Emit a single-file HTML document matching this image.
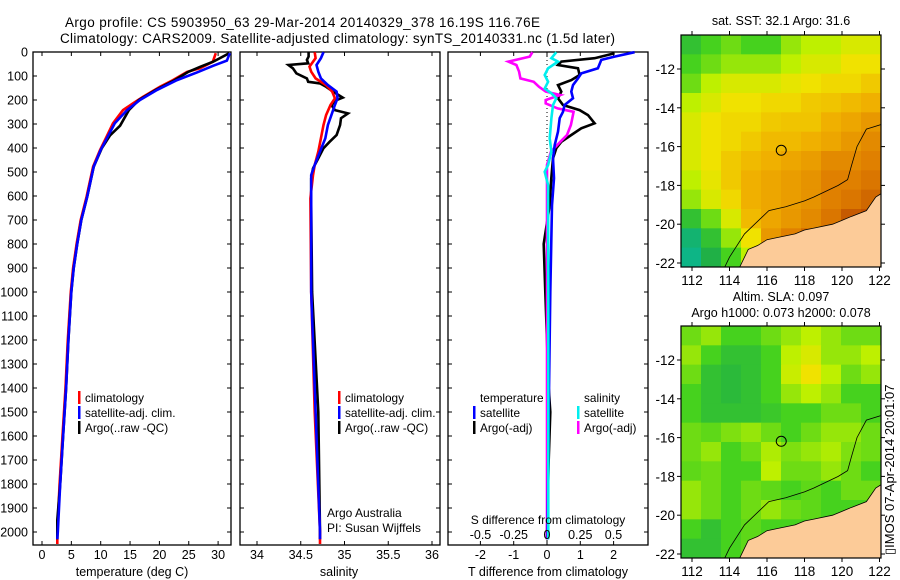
<!DOCTYPE html>
<html><head><meta charset="utf-8"><style>
body{margin:0;background:#fff}
svg{display:block;font-family:"Liberation Sans",sans-serif}
text{fill:#000}
</style></head><body>
<svg id="fig" width="900" height="580" viewBox="0 0 900 580" xmlns="http://www.w3.org/2000/svg">
<text x="65" y="27" font-size="13.5" textLength="475">Argo profile: CS 5903950_63 29-Mar-2014 20140329_378 16.19S 116.76E</text>
<text x="60" y="43" font-size="13.5" textLength="555">Climatology: CARS2009. Satellite-adjusted climatology: synTS_20140331.nc (1.5d later)</text>
<g id="g1"></g>
<g id="g2"></g>
<g id="g3"></g>
<g id="m1"></g>
<g id="m2"></g>
<text transform="translate(894,555) rotate(-90)" font-size="13">▯IMOS 07-Apr-2014 20:01:07</text>
</svg>
<script>
// ---- temperature profile data ----
const climTDepth=[5,41,68,83,117,145,187,214,242,297,353,408,478,603,700,800,900,1000,1200,1400,1600,1800,2000,2050];
const tempClim=[29.6,29.1,26.9,24.7,22.3,20.1,17.2,15.5,13.8,12.1,11.0,9.9,8.7,7.6,6.6,5.9,5.3,4.9,4.4,4.0,3.5,3.0,2.6,2.6];
const satTDepth=[5,36,57,85,117,158,200,242,297,353,408,478,603,700,800,900,1000,1200,1400,1600,1800,2000,2030];
const tempSat=[32.0,31.5,29.2,26.4,23.0,19.6,16.7,14.5,12.4,11.2,10.0,8.8,7.7,6.7,6.0,5.4,5.0,4.5,4.1,3.6,3.1,2.7,2.6];
const argoTDepth=[5,40,62,83,117,158,200,242,307,347,400,478,603,700,800,900,1000,1200,1400,1600,1800,1950,2030];
const tempArgo=[31.9,29.2,26.9,24.9,22.6,19.4,16.5,14.8,13.3,11.6,10.2,8.8,7.7,6.7,6.0,5.4,5.0,4.5,4.1,3.6,3.1,2.6,2.6];
// ---- salinity profile data ----
const climSDepth=[1,26,61,82,110,138,165,193,221,263,304,360,415,471,513,610,1000,1500,2000,2050];
const salClim=[34.66,34.67,34.60,34.62,34.67,34.79,34.86,34.89,34.84,34.79,34.76,34.73,34.70,34.66,34.64,34.61,34.62,34.66,34.72,34.72];
const satSDepth=[1,26,54,82,110,138,165,193,221,263,304,360,415,471,513,610,1000,1500,2000,2030];
const salSat=[34.76,34.73,34.68,34.70,34.73,34.81,34.91,34.92,34.89,34.85,34.81,34.78,34.72,34.66,34.62,34.62,34.62,34.67,34.72,34.72];
const argoSDepth=[1,19,33,47,54,68,89,110,124,131,145,165,190,200,221,242,256,276,304,346,374,401,443,485,526,637,1000,1500,2000,2030];
const salArgo=[34.59,34.59,34.57,34.585,34.36,34.41,34.45,34.57,34.585,34.72,34.79,34.87,34.98,34.91,34.85,34.89,35.04,34.96,34.95,34.91,34.83,34.76,34.70,34.64,34.62,34.62,34.63,34.70,34.72,34.72];
// ---- difference data ----
const dTSatDepth=[1,19,33,68,89,110,138,165,193,221,249,276,332,388,443,526,638,1000,1500,2000,2030];
const dTSat=[2.63,2.03,1.63,1.53,1.03,0.93,0.78,0.73,0.78,0.53,0.48,0.38,0.33,0.23,0.18,0.21,0.15,0.1,0.05,0.02,0.02];
const dTArgoDepth=[5,26,40,54,68,96,117,138,165,193,221,242,263,297,318,346,374,401,443,526,638,800,1000,1200,1400,1500,1700,2000,2030];
const dTArgo=[2.03,1.43,0.43,0.33,0.93,0.98,0.73,0.33,0.43,0.33,0.48,0.98,1.23,1.43,1.03,0.73,0.43,0.28,0.18,0.13,0.08,-0.1,-0.05,0.0,0.05,0.1,0.05,0.0,0.0];
const dSSatDepth=[1,26,40,68,96,124,152,172,193,221,276,360,415,471,499,554,638,1000,2000,2030];
const dSSat=[0.07,0.033,0.083,0.008,-0.017,0.008,-0.017,0.033,0.07,0.045,0.033,0.02,0.033,0.008,-0.017,0.008,0.008,0.01,0.01,0.01];
const dSArgoDepth=[1,19,40,54,82,110,124,145,165,179,200,214,235,249,276,304,346,374,415,471,526,638,1000,2000,2030];
const dSArgo=[-0.11,-0.13,-0.29,-0.23,-0.21,-0.20,-0.10,-0.06,-0.01,0.10,-0.01,-0.01,0.08,0.20,0.19,0.18,0.15,0.10,0.03,0.0,0.0,0.0,0.0,0.0,0.0];
// ---- tick labels ----
const depthTicks=[0,100,200,300,400,500,600,700,800,900,1000,1100,1200,1300,1400,1500,1600,1700,1800,1900,2000];
const tempTicks=[0,5,10,15,20,25,30];
const salTicks=[34,34.5,35,35.5,36];
const dTTicks=[-2,-1,0,1,2];
const dSTicks=[-0.5,-0.25,0,0.25,0.5];
const lonTicks=[112,114,116,118,120,122];
const latTicks=[-12,-14,-16,-18,-20,-22];
// ---- map grids (10 cols x 12 rows, north to south) ----
const sstGrid=[
[0.30,0.35,0.40,0.35,0.35,0.45,0.50,0.50,0.55,0.55],
[0.35,0.40,0.45,0.45,0.45,0.50,0.55,0.55,0.60,0.60],
[0.40,0.50,0.55,0.55,0.55,0.58,0.60,0.62,0.62,0.65],
[0.50,0.55,0.60,0.60,0.62,0.62,0.65,0.66,0.68,0.70],
[0.55,0.60,0.62,0.62,0.65,0.66,0.66,0.70,0.72,0.75],
[0.55,0.60,0.62,0.65,0.68,0.68,0.70,0.72,0.75,0.78],
[0.55,0.60,0.65,0.68,0.70,0.72,0.74,0.78,0.78,0.80],
[0.50,0.58,0.65,0.70,0.72,0.74,0.76,0.80,0.80,0.82],
[0.45,0.55,0.62,0.70,0.72,0.74,0.76,0.80,0.82,0.85],
[0.30,0.40,0.55,0.68,0.72,0.75,0.78,0.82,0.88,0.90],
[0.15,0.30,0.45,0.60,0.75,0.80,0.85,0.88,0.90,0.90],
[0.10,0.25,0.35,0.50,0.75,0.80,0.85,0.88,0.90,0.90]];
const slaGrid=[
[0.40,0.45,0.35,0.35,0.40,0.45,0.50,0.45,0.40,0.40],
[0.45,0.35,0.30,0.30,0.35,0.50,0.55,0.45,0.45,0.50],
[0.40,0.30,0.28,0.30,0.35,0.52,0.60,0.50,0.40,0.45],
[0.35,0.30,0.28,0.30,0.35,0.45,0.50,0.45,0.35,0.35],
[0.35,0.30,0.30,0.30,0.32,0.35,0.35,0.40,0.40,0.35],
[0.40,0.38,0.42,0.45,0.40,0.35,0.40,0.45,0.45,0.40],
[0.40,0.45,0.35,0.40,0.48,0.42,0.45,0.48,0.42,0.40],
[0.38,0.40,0.35,0.35,0.50,0.40,0.40,0.45,0.40,0.35],
[0.45,0.40,0.35,0.40,0.38,0.35,0.38,0.35,0.40,0.40],
[0.45,0.40,0.35,0.40,0.45,0.40,0.38,0.35,0.35,0.35],
[0.35,0.30,0.35,0.38,0.35,0.35,0.35,0.38,0.40,0.40],
[0.30,0.30,0.35,0.38,0.35,0.35,0.35,0.38,0.40,0.40]];
const landLon=[114.5,115,115.5,116,116.5,117.5,118,118.5,119.5,120,120.5,121.3,121.8,122.3,122.3,114.5];
const landLat=[-22.3,-21.3,-21.1,-20.8,-20.7,-20.5,-20.3,-20.2,-20.0,-19.8,-19.6,-19.3,-18.6,-18.3,-22.3,-22.3];
const isoLon=[113.7,114,114.8,116.1,117,118,118.5,119.8,120.3,120.5,120.8,121.3,122.3];
const isoLat=[-22.3,-21.7,-20.5,-19.3,-19.1,-18.8,-18.6,-18.0,-17.7,-17.0,-16.0,-15.1,-14.8];
const profLon=[116.76], profLat=[-16.19];

const NS='http://www.w3.org/2000/svg';
function mk(tag,attrs,parent){const e=document.createElementNS(NS,tag);for(const k in attrs)e.setAttribute(k,attrs[k]);parent.appendChild(e);return e;}
function txt(s,x,y,anchor,parent,size){const t=mk('text',{x:x,y:y,'font-size':size||12.5,'text-anchor':anchor||'start'},parent);t.textContent=s;return t;}
const TOP=52,BOT=545;
const yD=d=>TOP+d*0.24;

function panel(g,x0,x1,xs,ticks,labelFmt,name){
  const r=mk('rect',{x:x0,y:TOP,width:x1-x0,height:BOT-TOP,fill:'none',stroke:'#000','stroke-width':1.3},g);
  
  
  depthTicks.forEach(d=>{mk('line',{x1:x0,x2:x0+4,y1:yD(d),y2:yD(d),stroke:'#000'},g);mk('line',{x1:x1,x2:x1-4,y1:yD(d),y2:yD(d),stroke:'#000'},g);});
  ticks.forEach(v=>{const x=xs(v);mk('line',{x1:x,x2:x,y1:TOP,y2:TOP+4,stroke:'#000'},g);mk('line',{x1:x,x2:x,y1:BOT,y2:BOT-4,stroke:'#000'},g);
    if(labelFmt){const t=txt(labelFmt(v),x,559,'middle',g);}});
}
function series(g,xs,depths,vals,color,name,w){
  const pts=depths.map((d,i)=>xs(vals[i]).toFixed(1)+','+yD(d).toFixed(1)).join(' ');
  const p=mk('polyline',{points:pts,fill:'none',stroke:color,'stroke-width':w||2.6,'stroke-linejoin':'miter'},g);
  
  
}
function legend(g,x,y,color,label){
  mk('rect',{x:x,y:y-11,width:2.5,height:13,fill:color},g);
  const t=txt(label,x+7,y,'start',g,11.8);
  
  
}
// Panel 1
const g1=document.getElementById('g1');
const xT=v=>42+5.87*v;
panel(g1,33,231,xT,tempTicks,v=>String(v),'temperature');
depthTicks.forEach(d=>{const t=txt(String(d),28,yD(d)+4.5,'end',g1);});
series(g1,xT,climTDepth,tempClim,'#f00','temp-climatology-line');
series(g1,xT,argoTDepth,tempArgo,'#000','temp-argo-line');
series(g1,xT,satTDepth,tempSat,'#00f','temp-satellite-line');
legend(g1,78,402,'#f00','climatology');legend(g1,78,417,'#00f','satellite-adj. clim.');legend(g1,78,432,'#000','Argo(..raw -QC)');
{const t=txt('temperature (deg C)',132,576,'middle',g1);}
// Panel 2
const g2=document.getElementById('g2');
const xS=v=>257+87.5*(v-34);
panel(g2,240,440,xS,salTicks,v=>String(v),'salinity');
series(g2,xS,argoSDepth,salArgo,'#000','sal-argo-line');
series(g2,xS,climSDepth,salClim,'#f00','sal-climatology-line');
series(g2,xS,satSDepth,salSat,'#00f','sal-satellite-line');
legend(g2,338,402,'#f00','climatology');legend(g2,338,417,'#00f','satellite-adj. clim.');legend(g2,338,432,'#000','Argo(..raw -QC)');
txt('Argo Australia',327,517,'start',g2,12);txt('PI: Susan Wijffels',327,532,'start',g2,12);
{const t=txt('salinity',339,576,'middle',g2);}
// Panel 3
const g3=document.getElementById('g3');
const xDT=v=>547+33.3*v, xDS=v=>547+133*v;
panel(g3,448,648,xDT,dTTicks,v=>String(v),'t-difference');
mk('line',{x1:547,x2:547,y1:TOP,y2:BOT,stroke:'#000','stroke-dasharray':'1,3'},g3);
series(g3,xDT,dTArgoDepth,dTArgo,'#000','dT-argo-line');
series(g3,xDS,dSArgoDepth,dSArgo,'#f0f','dS-argo-line');
series(g3,xDT,dTSatDepth,dTSat,'#00f','dT-satellite-line');
series(g3,xDS,dSSatDepth,dSSat,'#0ee','dS-satellite-line');
txt('temperature',480,402,'start',g3,11.8);txt('salinity',584,402,'start',g3,11.8);
legend(g3,473,417,'#00f','satellite');legend(g3,473,432,'#000','Argo(-adj)');
legend(g3,577,417,'#0ee','satellite');legend(g3,577,432,'#f0f','Argo(-adj)');
txt('S difference from climatology',548,524,'middle',g3,12);
dSTicks.forEach(v=>{const t=txt(String(v),xDS(v),539,'middle',g3);});
{const t=txt('T difference from climatology',548,576,'middle',g3);}

// colormap
const stops=[[0,[0,184,176]],[0.25,[32,176,70]],[0.35,[70,210,30]],[0.5,[190,240,0]],[0.6,[240,226,0]],[0.7,[240,176,0]],[0.8,[224,128,0]],[0.9,[192,80,0]],[1,[160,48,0]]];
function cmap(v){for(let i=1;i<stops.length;i++){if(v<=stops[i][0]){const a=stops[i-1],b=stops[i],t=(v-a[0])/(b[0]-a[0]);return 'rgb('+a[1].map((c,k)=>Math.round(c+t*(b[1][k]-c))).join(',')+')';}}return 'rgb(160,48,0)';}
function map(g,top,grid,title,titleY,name){
  const L=681,R=881,B=top+232;
  const xl=lon=>692+18.75*(lon-112), yl=lat=>(top+34)-19.4*(lat+12);
  const id='clip'+name;const cp=mk('clipPath',{id:id},g);mk('rect',{x:L,y:top,width:R-L,height:B-top},cp);
  const cg=mk('g',{'clip-path':'url(#'+id+')'},g);
  const rows=grid.length,cols=grid[0].length,cw=(R-L)/cols,ch=(B-top)/rows;
  grid.forEach((row,r)=>row.forEach((v,c)=>{const e=mk('rect',{x:L+c*cw,y:top+r*ch,width:cw+0.5,height:ch+0.5,fill:cmap(v)},cg);
    
    }));
  const land=mk('polygon',{points:landLon.map((lo,i)=>xl(lo)+','+yl(landLat[i])).join(' '),fill:'#fccb98',stroke:'#000','stroke-width':0.8},cg);
  
  
  mk('polyline',{points:isoLon.map((lo,i)=>xl(lo)+','+yl(isoLat[i])).join(' '),fill:'none',stroke:'#000','stroke-width':0.8},cg);
  const c=mk('circle',{cx:xl(profLon[0]),cy:yl(profLat[0]),r:5,fill:'none',stroke:'#000','stroke-width':1},cg);
  
  
  mk('rect',{x:L,y:top,width:R-L,height:B-top,fill:'none',stroke:'#000','stroke-width':1.2},g);
  lonTicks.forEach(lo=>{const x=xl(lo);mk('line',{x1:x,x2:x,y1:top-4,y2:top,stroke:'#000'},g);mk('line',{x1:x,x2:x,y1:B,y2:B+4,stroke:'#000'},g);
    const t=txt(String(lo),x,B+18,'middle',g,13.5);});
  latTicks.forEach(la=>{const y=yl(la);mk('line',{x1:L-4,x2:L,y1:y,y2:y,stroke:'#000'},g);mk('line',{x1:R,x2:R+4,y1:y,y2:y,stroke:'#000'},g);
    const t=txt(String(la),L-6,y+5,'end',g,13.5);});
  title.forEach((s,i)=>{const t=txt(s,781,titleY+i*16,'middle',g,12.5);});
}
map(document.getElementById('m1'),35,sstGrid,['sat. SST: 32.1 Argo: 31.6'],25,'sst');
map(document.getElementById('m2'),326,slaGrid,['Altim. SLA: 0.097','Argo h1000: 0.073 h2000: 0.078'],301,'sla');
</script>
</body></html>
